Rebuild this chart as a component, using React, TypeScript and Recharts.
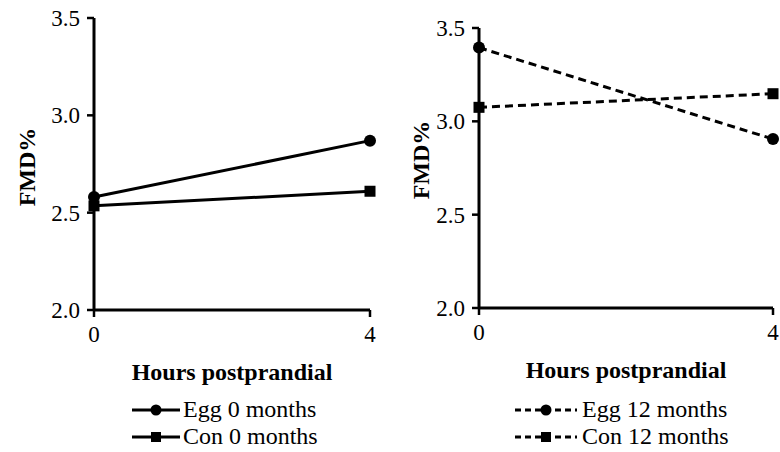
import React from 'react';
import { LineChart, Line, XAxis, YAxis, Legend } from 'recharts';

const hours = [0, 4];
const yTicks = [2.0, 2.5, 3.0, 3.5];
const xTicks = [0, 4];

const egg0 = [2.58, 2.87];
const con0 = [2.535, 2.61];
const egg12 = [3.395, 2.905];
const con12 = [3.075, 3.148];

const leftNames = ['Egg 0 months', 'Con 0 months'];
const rightNames = ['Egg 12 months', 'Con 12 months'];

const FONT = 'Liberation Serif, Times New Roman, Times, serif';

const leftData = hours.map((h, i) => ({ h, egg: egg0[i], con: con0[i] }));
const rightData = hours.map((h, i) => ({ h, egg: egg12[i], con: con12[i] }));

const CircleDot = (props: any) => {
  const { cx, cy } = props;
  if (cx == null || cy == null) return null;
  return <circle cx={cx} cy={cy} r={6} fill="#000" />;
};
const SquareDot = (props: any) => {
  const { cx, cy } = props;
  if (cx == null || cy == null) return null;
  return <rect x={cx - 5.5} y={cy - 5.5} width={11} height={11} fill="#000" />;
};

const makeLegend = (names: string[], dashed: boolean, lineLen: number, gap: number) => () => (
  <div style={{ fontFamily: FONT, fontSize: 24, color: '#000', lineHeight: '27px' }}>
    {names.map((n, i) => (
      <div key={n} style={{ display: 'flex', alignItems: 'center', height: 27, whiteSpace: 'nowrap' }}>
        <svg width={lineLen} height={20} style={{ marginRight: gap }}>
          <line x1={0} x2={lineLen} y1={10} y2={10} stroke="#000" strokeWidth={3}
            strokeDasharray={dashed ? '6 4' : undefined} />
          {i === 0 ? (
            <circle cx={lineLen / 2} cy={10} r={5.5} fill="#000" />
          ) : (
            <rect x={lineLen / 2 - 5} y={5} width={10} height={10} fill="#000" />
          )}
        </svg>
        <span>{n}</span>
      </div>
    ))}
  </div>
);

const YLabel = (cx: number, cy: number) => () => (
  <text x={cx} y={cy} dy="0.35em" transform={`rotate(-90 ${cx} ${cy})`} textAnchor="middle"
    style={{ fontFamily: FONT }} fontWeight="bold" fontSize={24} fill="#000">FMD%</text>
);

const XLabel = (props: any) => {
  const vb = props.viewBox || {};
  const x = vb.x + vb.width / 2;
  const y = vb.y + 70;
  return (
    <text x={x} y={y} textAnchor="middle" style={{ fontFamily: FONT }} fontWeight="bold" fontSize={24} fill="#000">
      Hours postprandial
    </text>
  );
};

const tickStyle = { fontSize: 23, fill: '#000', fontFamily: FONT, style: { fontFamily: FONT } };
const axisLine = { stroke: '#000', strokeWidth: 3 };
const tickLine = { stroke: '#000', strokeWidth: 2.5 };

function Panel({ data, top, bottom, right, dashed, names, legendLeft, lineLen, gap, yl }: any) {
  const dash = dashed ? '8 5' : undefined;
  return (
    <LineChart width={dashed ? 395 : 390} height={452} data={data} style={{ fontFamily: FONT }}
      margin={{ top, right, bottom: 452 - bottom - 60, left: 0 }}>
      <XAxis dataKey="h" type="number" domain={[0, 4]} ticks={xTicks} height={60}
        tick={tickStyle} tickSize={7} tickMargin={9} axisLine={axisLine} tickLine={tickLine}
        label={{ content: XLabel }} />
      <YAxis type="number" domain={[2, 3.5]} ticks={yTicks} width={94}
        tickFormatter={(v: number) => v.toFixed(1)} tick={tickStyle} tickSize={7} tickMargin={7}
        axisLine={axisLine} tickLine={tickLine} label={{ content: YLabel(yl[0], yl[1]) }} />
      <Line dataKey="egg" name={names[0]} stroke="#000" strokeWidth={3} strokeDasharray={dash}
        dot={<CircleDot />} activeDot={false} isAnimationActive={false} />
      <Line dataKey="con" name={names[1]} stroke="#000" strokeWidth={3} strokeDasharray={dash}
        dot={<SquareDot />} activeDot={false} isAnimationActive={false} />
      <Legend layout="vertical" align="center" verticalAlign="middle"
        content={makeLegend(names, dashed, lineLen, gap)}
        wrapperStyle={{ left: legendLeft, top: 396, width: 260, height: 54 }} />
    </LineChart>
  );
}

export default function App() {
  return (
    <div style={{ position: 'absolute', left: 0, top: 0, width: 780, height: 452, background: '#fff', fontFamily: FONT }}>
      <div style={{ position: 'absolute', left: 0, top: 0 }}>
        <Panel data={leftData} top={18} bottom={310} right={20} dashed={false} names={leftNames}
          legendLeft={132} lineLen={48} gap={3} yl={[27, 167]} />
      </div>
      <div style={{ position: 'absolute', left: 385, top: 0 }}>
        <Panel data={rightData} top={28} bottom={308} right={7} dashed={true} names={rightNames}
          legendLeft={130} lineLen={62} gap={5} yl={[36, 160]} />
      </div>
    </div>
  );
}
